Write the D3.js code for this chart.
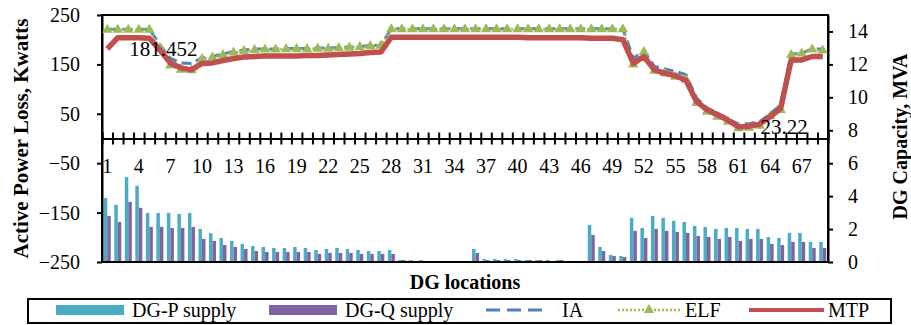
<!DOCTYPE html>
<html>
<head>
<meta charset="utf-8">
<script src="https://cdn.jsdelivr.net/npm/d3@7"></script>
<style>
  body { margin: 0; background: #fff; }
  svg { display: block; font-family: "Liberation Serif", "Times New Roman", serif; }
  .axis path, .axis line { stroke: #000; stroke-width: 2; }
  .axis text { font-family: "Liberation Serif", "Times New Roman", serif; font-size: 20px; fill: #000; }
</style>
</head>
<body>
<div id="chart"></div>
<script>
// DG locations 1..69
const locations = d3.range(1, 70);
const xLabelEvery = 3;

// DG supply, MVA (secondary axis)
const dgP = [3.88, 3.47, 5.15, 4.63, 2.98, 2.98, 2.98, 2.92, 2.98, 2.01,
  1.75, 1.46, 1.28, 1.10, 0.97, 0.91, 0.85, 0.85, 0.91, 0.85,
  0.73, 0.79, 0.85, 0.79, 0.73, 0.67, 0.67, 0.73, 0.12, 0.12,
  0.12, 0.06, 0.05, 0.05, 0.05, 0.79, 0.18, 0.18, 0.18, 0.18,
  0.12, 0.12, 0.12, 0.12, 0.06, 0.06, 2.25, 0.91, 0.43, 0.37,
  2.68, 2.07, 2.80, 2.68, 2.50, 2.43, 2.19, 2.13, 2.01, 2.07,
  2.07, 2.01, 2.01, 1.52, 1.46, 1.77, 1.77, 1.22, 1.22];
const dgQ = [2.80, 2.43, 3.65, 3.29, 2.13, 2.13, 2.07, 2.07, 2.13, 1.40,
  1.28, 1.03, 0.91, 0.79, 0.67, 0.61, 0.61, 0.61, 0.61, 0.61,
  0.49, 0.55, 0.55, 0.55, 0.49, 0.49, 0.49, 0.49, 0.12, 0.06,
  0.06, 0.06, 0.05, 0.05, 0.05, 0.55, 0.12, 0.12, 0.12, 0.12,
  0.12, 0.12, 0.06, 0.12, 0.06, 0.06, 1.64, 0.67, 0.37, 0.30,
  1.89, 1.46, 2.01, 1.89, 1.83, 1.77, 1.58, 1.52, 1.40, 1.52,
  1.28, 1.40, 1.40, 1.10, 1.03, 1.22, 1.22, 0.85, 0.85];

// active power loss, kW (primary axis)
const lossIA = [221, 221, 221, 221, 221, 190, 162, 153, 152, 163,
  166, 171, 176, 179, 181, 181, 181, 182, 182, 182,
  183, 183, 184, 185, 186, 188, 189, 222, 222, 222,
  222, 222, 222, 222, 222, 222, 222, 222, 222, 222,
  222, 222, 222, 222, 222, 222, 222, 222, 222, 222,
  162, 177, 146, 141, 136, 129, 82, 62, 51, 40,
  29, 30, 34, 50, 68, 171, 173, 181, 181];
const lossELF = [220, 220, 220, 220, 220, 183, 148, 139, 138, 161,
  164, 169, 174, 177, 179, 180, 180, 181, 181, 181,
  182, 182, 183, 184, 185, 187, 188, 221, 221, 221,
  221, 221, 221, 221, 221, 221, 221, 221, 221, 221,
  221, 221, 221, 221, 221, 221, 221, 221, 221, 221,
  150, 175, 137, 132, 125, 119, 72, 54, 44, 34,
  21, 22, 26, 45, 58, 169, 172, 180, 178];
const lossMTP = [181.452, 204, 204, 204, 203, 179, 153, 143, 139, 152,
  153, 158, 162, 165, 166, 167, 167, 167, 167, 168,
  168, 169, 170, 171, 172, 174, 175, 205, 205, 205,
  205, 205, 205, 205, 205, 205, 205, 205, 205, 205,
  204, 204, 204, 204, 204, 204, 203, 203, 203, 200,
  152, 166, 139, 132, 127, 118, 75, 58, 48, 37,
  23.22, 25, 29, 44, 61, 159, 159, 166, 166];
const labelledMTP = [1, 61];

const leftTicks = [250, 150, 50, -50, -150, -250];
const rightTicks = [0, 2, 4, 6, 8, 10, 12, 14];

const W = 911, H = 325;
const m = { left: 102, right: 828, top: 15, bottom: 262 };

const svg = d3.select("#chart").append("svg")
  .attr("width", W).attr("height", H);

const x = d3.scaleBand().domain(locations).range([m.left, m.right]).padding(0);
const bw = x.bandwidth();
const cx = d => x(d) + bw / 2;
const y = d3.scaleLinear().domain([-250, 250]).range([m.bottom, m.top]);
const y2 = d3.scaleLinear().domain([0, 15]).range([m.bottom, m.top]);
const inner = d3.scaleBand().domain(["P", "Q"]).range([0, 7]);

// bars
const bars = svg.append("g");
bars.selectAll("rect.p").data(locations).join("rect")
  .attr("x", (d, i) => x(d) + (bw - 7) / 2 + inner("P"))
  .attr("width", inner.bandwidth())
  .attr("y", (d, i) => y2(dgP[i]))
  .attr("height", (d, i) => y2(0) - y2(dgP[i]))
  .attr("fill", "#4BACC6");
bars.selectAll("rect.q").data(locations).join("rect")
  .attr("x", (d, i) => x(d) + (bw - 7) / 2 + inner("Q"))
  .attr("width", inner.bandwidth())
  .attr("y", (d, i) => y2(dgQ[i]))
  .attr("height", (d, i) => y2(0) - y2(dgQ[i]))
  .attr("fill", "#8064A2");

// frame
svg.append("rect")
  .attr("x", m.left).attr("y", m.top)
  .attr("width", m.right - m.left).attr("height", m.bottom - m.top)
  .attr("fill", "none").attr("stroke", "#000").attr("stroke-width", 2);

// x axis at zero with crossing ticks on category boundaries
const xb = d3.scaleLinear().domain([0, locations.length]).range([m.left, m.right]);
const bounds = d3.range(0, locations.length + 1);
svg.append("g").attr("class", "axis")
  .attr("transform", `translate(0,${y(0)})`)
  .call(d3.axisBottom(xb).tickValues(bounds).tickSize(6).tickFormat(""))
  .call(g => g.select(".domain").remove());
svg.append("g").attr("class", "axis")
  .attr("transform", `translate(0,${y(0)})`)
  .call(d3.axisTop(xb).tickValues(bounds).tickSize(6).tickFormat(""));
svg.append("g").attr("class", "axis")
  .attr("transform", `translate(0,${y(0)})`)
  .call(d3.axisBottom(x).tickValues(locations.filter(d => (d - 1) % xLabelEvery === 0))
    .tickSize(0).tickPadding(20))
  .call(g => g.select(".domain").remove());

// left axis
svg.append("g").attr("class", "axis")
  .attr("transform", `translate(${m.left},0)`)
  .call(d3.axisLeft(y).tickValues(leftTicks).tickSize(5).tickPadding(17).tickSizeOuter(0));

// right axis
svg.append("g").attr("class", "axis")
  .attr("transform", `translate(${m.right},0)`)
  .call(d3.axisRight(y2).tickValues(rightTicks).tickSize(5).tickPadding(15).tickSizeOuter(0));

// lines
const line = arr => d3.line().x((d, i) => cx(locations[i])).y(d => y(d))(arr);

svg.append("path").attr("d", line(lossIA))
  .attr("fill", "none").attr("stroke", "#4F81BD").attr("stroke-width", 3)
  .attr("stroke-dasharray", "10,5");

svg.append("path").attr("d", line(lossELF))
  .attr("fill", "none").attr("stroke", "#9BBB59").attr("stroke-width", 2.5)
  .attr("stroke-dasharray", "2,2");
const tri = d3.symbol().type(d3.symbolTriangle).size(48);
svg.append("g").selectAll("path").data(lossELF).join("path")
  .attr("transform", (d, i) => `translate(${cx(locations[i])},${y(d)})`)
  .attr("d", tri).attr("fill", "#9BBB59");

svg.append("path").attr("d", line(lossMTP))
  .attr("fill", "none").attr("stroke", "#C0504D").attr("stroke-width", 5.5)
  .attr("stroke-linejoin", "round");

// data labels
svg.append("g").selectAll("text").data(labelledMTP).join("text")
  .attr("x", d => cx(d) + 22)
  .attr("y", d => y(lossMTP[d - 1]) + 7)
  .attr("font-size", 21)
  .text(d => String(lossMTP[d - 1]));

// axis titles
svg.append("text")
  .attr("transform", `translate(28,${(m.top + m.bottom) / 2}) rotate(-90)`)
  .attr("text-anchor", "middle").attr("font-weight", "bold").attr("font-size", 21)
  .text("Active Power Loss, Kwatts");
svg.append("text")
  .attr("transform", `translate(907,${(m.top + m.bottom) / 2 - 2}) rotate(-90)`)
  .attr("text-anchor", "middle").attr("font-weight", "bold").attr("font-size", 20)
  .text("DG Capacity, MVA");
svg.append("text")
  .attr("x", (m.left + m.right) / 2).attr("y", 289)
  .attr("text-anchor", "middle").attr("font-weight", "bold").attr("font-size", 20)
  .text("DG locations");

// legend
const leg = svg.append("g");
leg.append("rect").attr("x", 28).attr("y", 299).attr("width", 863).attr("height", 24)
  .attr("fill", "#fff").attr("stroke", "#000").attr("stroke-width", 2);
const legItems = [
  { name: "DG-P supply", kind: "bar", color: "#4BACC6", x: 56 },
  { name: "DG-Q supply", kind: "bar", color: "#8064A2", x: 269 },
  { name: "IA", kind: "dash", color: "#4F81BD", x: 486 },
  { name: "ELF", kind: "dot", color: "#9BBB59", x: 618 },
  { name: "MTP", kind: "solid", color: "#C0504D", x: 749 }
];
const ly = 310;
legItems.forEach(it => {
  if (it.kind === "bar") {
    leg.append("rect").attr("x", it.x).attr("y", ly - 5).attr("width", 68).attr("height", 10)
      .attr("fill", it.color);
  } else {
    const len = it.kind === "solid" ? 75 : 62;
    const l = leg.append("line").attr("x1", it.x).attr("x2", it.x + len)
      .attr("y1", ly).attr("y2", ly).attr("stroke", it.color);
    if (it.kind === "dash") l.attr("stroke-width", 3).attr("stroke-dasharray", "14,7");
    if (it.kind === "dot") {
      l.attr("stroke-width", 2.5).attr("stroke-dasharray", "2,2");
      leg.append("path").attr("transform", `translate(${it.x + len / 2},${ly})`)
        .attr("d", tri).attr("fill", it.color);
    }
    if (it.kind === "solid") l.attr("stroke-width", 4);
  }
  const tx = it.kind === "bar" ? it.x + 76 : it.x + (it.kind === "solid" ? 79 : 67 + (it.kind === "dash" ? 9 : 0));
  leg.append("text").attr("x", tx).attr("y", 317).attr("font-size", 20).text(it.name);
});
</script>
</body>
</html>
